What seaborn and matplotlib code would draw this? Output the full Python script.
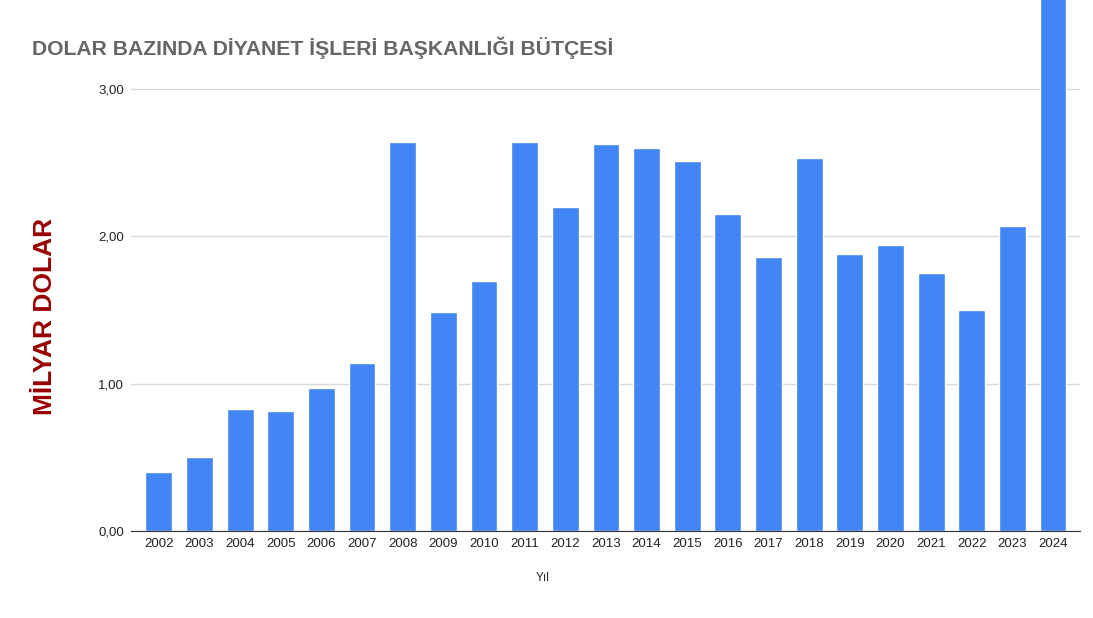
import matplotlib
matplotlib.use('Agg')
import matplotlib.pyplot as plt
import seaborn as sns
import pandas as pd

# yıllara göre bütçe (milyar dolar)
years = ['2002', '2003', '2004', '2005', '2006', '2007', '2008', '2009', '2010', '2011', '2012',
         '2013', '2014', '2015', '2016', '2017', '2018', '2019', '2020', '2021', '2022', '2023', '2024']
budget = [0.40, 0.50, 0.83, 0.815, 0.97, 1.14, 2.64, 1.49, 1.70, 2.64, 2.20,
          2.63, 2.60, 2.51, 2.15, 1.86, 2.53, 1.88, 1.94, 1.75, 1.50, 2.07, 3.75]
yticks = [0, 1, 2, 3]
ytick_labels = ['0,00', '1,00', '2,00', '3,00']

df = pd.DataFrame({'Yil': years, 'Butce': budget})

sns.set_style('white')
plt.rcParams['font.family'] = ['Liberation Sans', 'DejaVu Sans']

fig = plt.figure(figsize=(10.93, 6.18), dpi=100)
ax = fig.add_axes([0.12, 0.1408, 0.868, 0.8592])

sns.barplot(data=df, x='Yil', y='Butce', color='#4285F4', saturation=1, width=0.66, ax=ax, zorder=3)

ax.set_xlim(-0.68, 22.66)
ax.set_ylim(0, 3.605)
ax.set_yticks(yticks)
ax.set_yticklabels(ytick_labels)
ax.grid(axis='y', color='#d9d9d9', linewidth=1, zorder=0)
for s in ['top', 'right', 'left']:
    ax.spines[s].set_visible(False)
ax.spines['bottom'].set_color('#333333')
ax.spines['bottom'].set_zorder(4)
ax.tick_params(axis='both', length=0, labelsize=9.5, colors='#222222')
ax.tick_params(axis='y', pad=5)
ax.tick_params(axis='x', pad=5)

ax.set_xlabel('')
ax.set_ylabel('')
fig.text(543 / 1093, 1 - 578 / 618, 'Yıl', ha='center', va='center', fontsize=8.5, color='#222222')
fig.text(45 / 1093, 1 - 316 / 618, 'MİLYAR DOLAR', rotation=90, ha='center', va='center',
         fontsize=19, fontweight='bold', color='#990000')
fig.text(32 / 1093, 1 - 48 / 618, 'DOLAR BAZINDA DİYANET İŞLERİ BAŞKANLIĞI BÜTÇESİ', ha='left', va='center',
         fontsize=15.2, fontweight='bold', color='#666666')

fig.savefig('out.png', dpi=100)
